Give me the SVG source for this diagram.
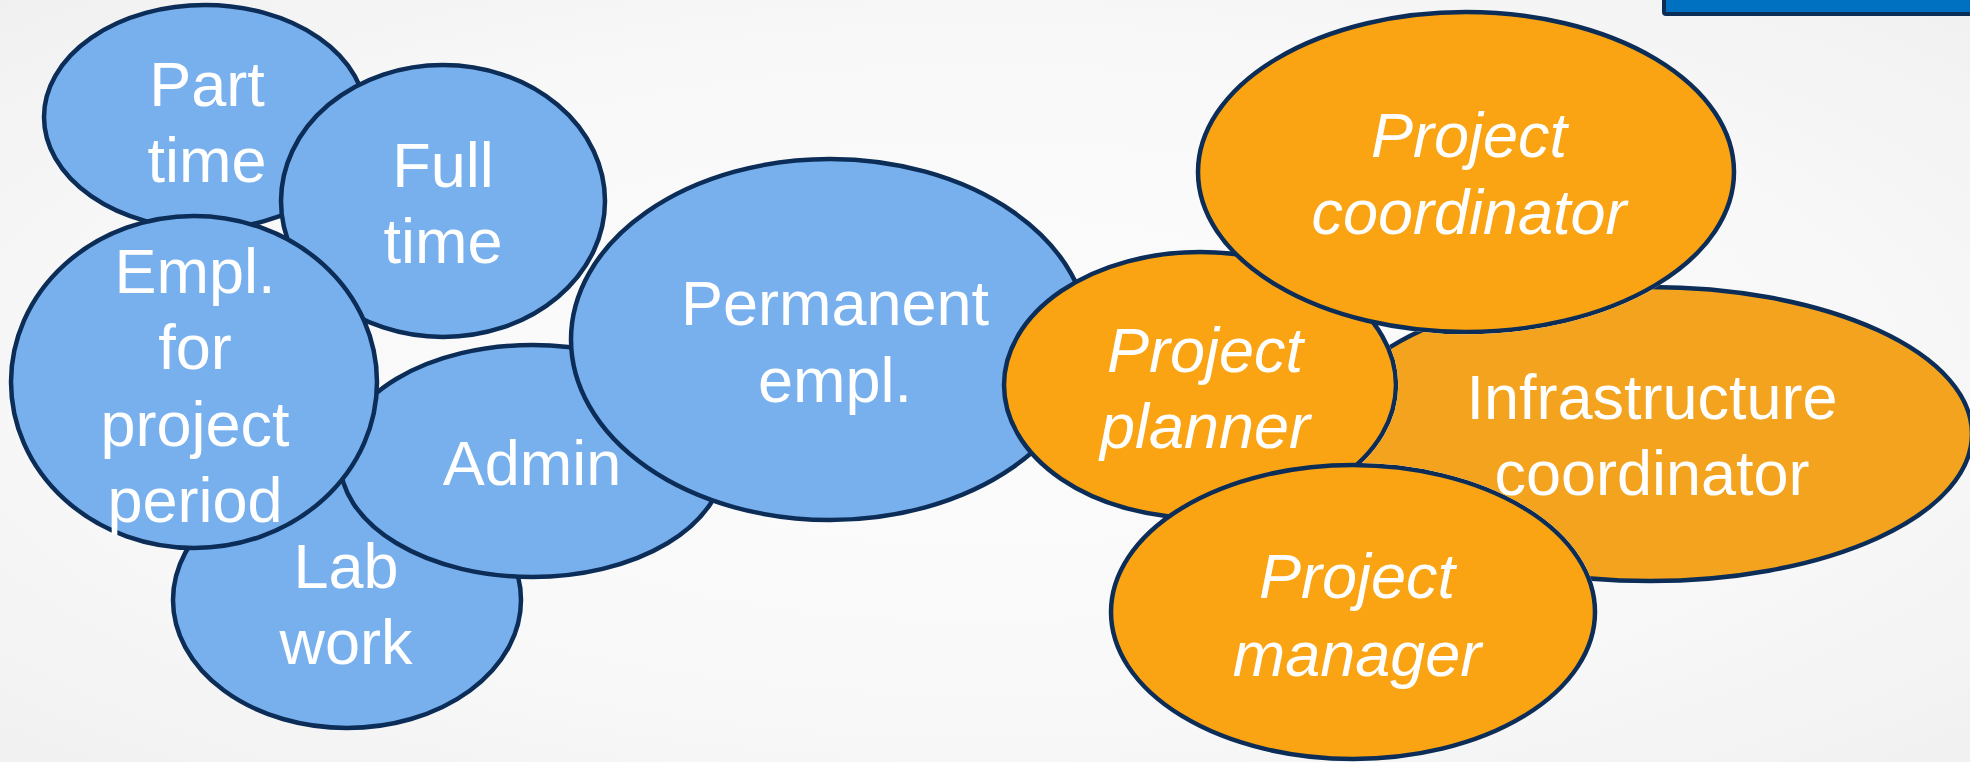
<svg xmlns="http://www.w3.org/2000/svg" width="1970" height="762" viewBox="0 0 1970 762">
<defs>
<radialGradient id="bg" cx="50%" cy="50%" r="75%">
<stop offset="0" stop-color="#FCFCFC"/>
<stop offset="0.6" stop-color="#F8F8F8"/>
<stop offset="1" stop-color="#EFEFEF"/>
</radialGradient>
<mask id="infraMask" maskUnits="userSpaceOnUse" x="0" y="0" width="1970" height="762">
<rect x="0" y="0" width="1970" height="762" fill="#fff"/>
<ellipse cx="1200" cy="385" rx="196" ry="133" fill="#000" stroke="#000" stroke-width="4.5"/>
<ellipse cx="1466" cy="172" rx="268" ry="160" fill="#000" stroke="#000" stroke-width="4.5"/>
<ellipse cx="1353" cy="612" rx="242" ry="147" fill="#000" stroke="#000" stroke-width="4.5"/>
</mask>
</defs>
<style>
.blue{fill:#78B0EE;stroke:#0B2D57;stroke-width:4.5}
.orange{fill:#FAA313;stroke:#0B2D57;stroke-width:4.5}
.orange2{fill:#F4A31E;stroke:#0B2D57;stroke-width:4.5}
.t{font-family:"Liberation Sans",Arial,sans-serif;font-size:63px;fill:#fff;text-anchor:middle}
.i{font-style:italic}
</style>
<rect x="0" y="0" width="1970" height="762" fill="url(#bg)"/>
<rect x="1664" y="-20" width="330" height="34" rx="2" fill="#0070C0" stroke="#0B2D57" stroke-width="4"/>
<g id="connectors"/>
<g id="part-time">
<ellipse class="blue" cx="205" cy="117" rx="161" ry="112"/>
<text class="t" x="207" y="106">Part</text>
<text class="t" x="207" y="182">time</text>
</g>
<g id="full-time">
<ellipse class="blue" cx="443" cy="201" rx="162" ry="136"/>
<text class="t" x="443" y="187">Full</text>
<text class="t" x="443" y="263">time</text>
</g>
<g id="lab-work">
<ellipse class="blue" cx="347" cy="600" rx="174" ry="128"/>
<text class="t" x="346" y="588">Lab</text>
<text class="t" x="346" y="664">work</text>
</g>
<g id="admin">
<ellipse class="blue" cx="532" cy="461" rx="192" ry="116"/>
<text class="t" x="532" y="485">Admin</text>
</g>
<g id="empl-project-period">
<ellipse class="blue" cx="194" cy="382" rx="183" ry="166"/>
<text class="t" x="195" y="293">Empl.</text>
<text class="t" x="195" y="369">for</text>
<text class="t" x="195" y="446">project</text>
<text class="t" x="195" y="522">period</text>
</g>
<g id="permanent-empl">
<ellipse class="blue" cx="830" cy="339.5" rx="259" ry="180.5"/>
<text class="t" x="835" y="325">Permanent</text>
<text class="t" x="835" y="402">empl.</text>
</g>
<g id="project-planner">
<ellipse class="orange" cx="1200" cy="385" rx="196" ry="133"/>
<text class="t i" x="1205" y="372">Project</text>
<text class="t i" x="1205" y="448">planner</text>
</g>
<g id="project-coordinator">
<ellipse class="orange" cx="1466" cy="172" rx="268" ry="160"/>
<text class="t i" x="1469" y="157">Project</text>
<text class="t i" x="1469" y="234">coordinator</text>
</g>
<g id="project-manager">
<ellipse class="orange" cx="1353" cy="612" rx="242" ry="147"/>
<text class="t i" x="1357" y="598">Project</text>
<text class="t i" x="1357" y="676">manager</text>
</g>
<g id="infrastructure-coordinator">
<ellipse class="orange2" cx="1650" cy="434" rx="322" ry="147" mask="url(#infraMask)"/>
<text class="t" x="1652" y="419">Infrastructure</text>
<text class="t" x="1652" y="495">coordinator</text>
</g>
</svg>
